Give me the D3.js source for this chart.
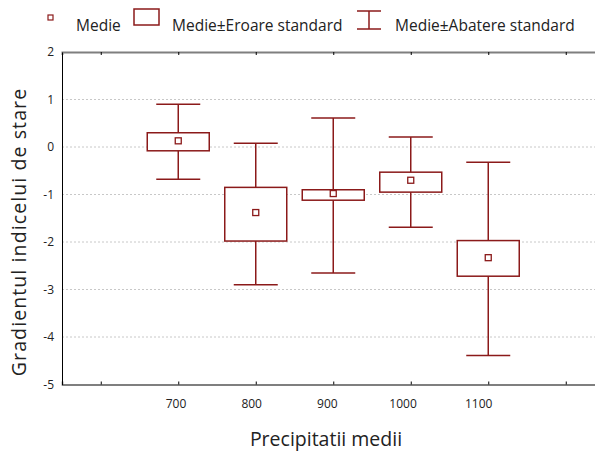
<!DOCTYPE html>
<html>
<head>
<meta charset="utf-8">
<script src="https://cdn.jsdelivr.net/npm/d3@7"></script>
<style>
  body { margin: 0; background: #fff; }
  svg { display: block; font-family: "Open Sans", sans-serif; }
</style>
</head>
<body>
<script>
// precipitation classes and stats
let categories = [700, 800, 900, 1000, 1100];
let means      = [0.13, -1.38, -0.98, -0.70, -2.33];
let seLow      = [-0.08, -1.98, -1.12, -0.95, -2.72];
let seHigh     = [0.30, -0.85, -0.90, -0.53, -1.97];
let sdLow      = [-0.68, -2.90, -2.65, -1.69, -4.39];
let sdHigh     = [0.90, 0.08, 0.61, 0.21, -0.32];
let yTicks     = [-5, -4, -3, -2, -1, 0, 1, 2];
let xTicks     = [600, 700, 800, 900, 1000, 1100, 1200];

let W = 595, H = 451;
let red = "#8b1a1a";

let x = d3.scaleLinear().domain([550, 1250]).range([62, 604.5]);
// tick labels sit a little off the tick marks in the original
let xLab = d3.scaleLinear().domain([700, 1100]).range([176, 478.7]);
let y = d3.scaleLinear().domain([-5, 2]).range([384.5, 52]);

let svg = d3.select("body").append("svg")
    .attr("width", W).attr("height", H);

let data = categories.map((c, i) => ({c, m: means[i], sl: seLow[i], sh: seHigh[i], dl: sdLow[i], dh: sdHigh[i]}));

// grid
svg.append("g").selectAll("line")
    .data(yTicks.filter(t => t > -5 && t < 2))
    .join("line")
    .attr("x1", x(550)).attr("x2", W)
    .attr("y1", d => y(d)).attr("y2", d => y(d))
    .attr("stroke", "#c8c8c8").attr("stroke-dasharray", "2,2");

// axes
svg.append("g")
    .attr("transform", "translate(0," + y(2) + ")")
    .call(d3.axisBottom(x).tickValues(xTicks).tickSize(3).tickFormat(""))
    .call(g => g.select(".domain").attr("stroke", "#7f7f7f").attr("stroke-width", 2))
    .call(g => g.selectAll(".tick line").attr("stroke", "#000"));

svg.append("g")
    .attr("transform", "translate(0," + y(-5) + ")")
    .call(d3.axisTop(x).tickValues(xTicks).tickSize(3).tickFormat(""))
    .call(g => g.select(".domain").attr("stroke", "#555").attr("stroke-width", 1.5))
    .call(g => g.selectAll(".tick line").attr("stroke", "#000"));

svg.append("g")
    .selectAll("text")
    .data(categories)
    .join("text")
    .attr("x", d => xLab(d))
    .attr("y", 407.5)
    .attr("text-anchor", "middle")
    .attr("font-size", 12)
    .attr("fill", "#222")
    .text(d => d);

svg.append("g")
    .attr("transform", "translate(" + x(550) + ",0)")
    .call(d3.axisLeft(y).tickValues(yTicks).tickSize(0).tickPadding(8).tickFormat(d => String(d)))
    .call(g => g.select(".domain").attr("stroke", "#000"))
    .call(g => g.selectAll("text").attr("font-size", 12).attr("fill", "#222").attr("font-family", "Open Sans"));

// whiskers (mean ± SD)
let wh = svg.append("g").attr("stroke", red).attr("stroke-width", 1.5);
wh.selectAll(".stem").data(data).join("line")
    .attr("x1", d => x(d.c)).attr("x2", d => x(d.c))
    .attr("y1", d => y(d.dh)).attr("y2", d => y(d.dl));
wh.selectAll(".capT").data(data).join("line")
    .attr("x1", d => x(d.c) - 22).attr("x2", d => x(d.c) + 22)
    .attr("y1", d => y(d.dh)).attr("y2", d => y(d.dh));
wh.selectAll(".capB").data(data).join("line")
    .attr("x1", d => x(d.c) - 22).attr("x2", d => x(d.c) + 22)
    .attr("y1", d => y(d.dl)).attr("y2", d => y(d.dl));

// boxes (mean ± SE)
svg.append("g").selectAll("rect").data(data).join("rect")
    .attr("x", d => x(d.c) - 31).attr("width", 62)
    .attr("y", d => y(d.sh)).attr("height", d => y(d.sl) - y(d.sh))
    .attr("fill", "#fff").attr("stroke", red).attr("stroke-width", 1.5);

// means
svg.append("g").selectAll("rect").data(data).join("rect")
    .attr("x", d => x(d.c) - 3).attr("y", d => y(d.m) - 3)
    .attr("width", 6).attr("height", 6)
    .attr("fill", "#fff").attr("stroke", red).attr("stroke-width", 1.3);

// legend
let lg = svg.append("g").attr("font-size", 15.5).attr("fill", "#222");
lg.append("rect").attr("x", 48).attr("y", 15).attr("width", 5).attr("height", 5)
    .attr("fill", "#fff").attr("stroke", red).attr("stroke-width", 1.2);
lg.append("text").attr("x", 76).attr("y", 31).text("Medie");
lg.append("rect").attr("x", 134).attr("y", 9).attr("width", 25).attr("height", 16)
    .attr("fill", "none").attr("stroke", red).attr("stroke-width", 1.5);
lg.append("text").attr("x", 172).attr("y", 31).text("Medie±Eroare standard");
lg.append("line").attr("x1", 357).attr("x2", 381).attr("y1", 11).attr("y2", 11).attr("stroke", red).attr("stroke-width", 1.5);
lg.append("line").attr("x1", 357).attr("x2", 381).attr("y1", 29).attr("y2", 29).attr("stroke", red).attr("stroke-width", 1.5);
lg.append("line").attr("x1", 369).attr("x2", 369).attr("y1", 11).attr("y2", 29).attr("stroke", red).attr("stroke-width", 1.5);
lg.append("text").attr("x", 395).attr("y", 31).text("Medie±Abatere standard");

// axis titles
svg.append("text")
    .attr("x", 326).attr("y", 446)
    .attr("text-anchor", "middle").attr("font-size", 19.5).attr("fill", "#222")
    .text("Precipitatii medii");
svg.append("text")
    .attr("transform", "translate(26,232) rotate(-90)")
    .attr("text-anchor", "middle").attr("font-size", 19.5).attr("fill", "#222")
    .attr("letter-spacing", 1.1)
    .text("Gradientul indicelui de stare");
</script>
</body>
</html>
